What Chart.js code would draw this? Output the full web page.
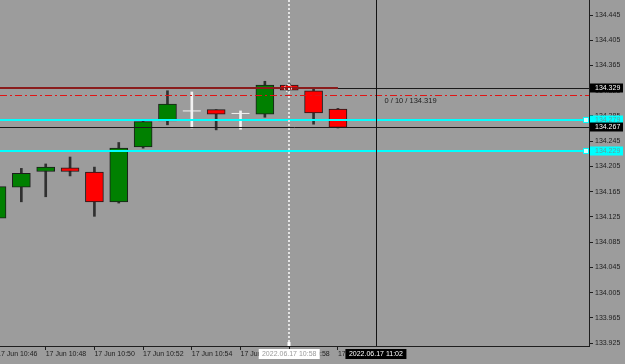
<!DOCTYPE html>
<html>
<head>
<meta charset="utf-8">
<script src="https://cdn.jsdelivr.net/npm/chart.js@4.4.0/dist/chart.umd.min.js"></script>
<style>
  html, body { margin: 0; padding: 0; background: #9c9c9c; }
  canvas { display: block; }
</style>
</head>
<body>
<canvas id="candleChart" width="625" height="364"></canvas>
<script>
// M1 candles, 17 Jun 2022
const times  = ['10:46','10:47','10:48','10:49','10:50','10:51','10:52','10:53','10:54','10:55','10:56','10:57','10:58','10:59','11:00'];
const opens  = [134.123, 134.172, 134.197, 134.203, 134.196, 134.149, 134.236, 134.277, 134.293, 134.295, 134.289, 134.288, 134.334, 134.325, 134.296];
const highs  = [134.174, 134.202, 134.209, 134.220, 134.204, 134.243, 134.278, 134.325, 134.323, 134.295, 134.293, 134.340, 134.336, 134.329, 134.297];
const lows   = [134.121, 134.149, 134.157, 134.190, 134.126, 134.147, 134.234, 134.271, 134.266, 134.263, 134.264, 134.283, 134.326, 134.272, 134.266];
const closes = [134.173, 134.194, 134.204, 134.197, 134.149, 134.234, 134.276, 134.304, 134.293, 134.288, 134.289, 134.334, 134.326, 134.290, 134.267];

const xTickValues = [0, 2, 4, 6, 8, 10, 12, 14];
const xTickLabels = ['17 Jun 10:46', '17 Jun 10:48', '17 Jun 10:50', '17 Jun 10:52', '17 Jun 10:54', '17 Jun 10:56', '17 Jun 10:58', '17 Jun 11:00'];
const yTickValues = [133.925, 133.965, 134.005, 134.045, 134.085, 134.125, 134.165, 134.205, 134.245, 134.285, 134.325, 134.365, 134.405, 134.445];
const yTickLabels = ['133.925', '133.965', '134.005', '134.045', '134.085', '134.125', '134.165', '134.205', '134.245', '134.285', '134.325', '134.365', '134.405', '134.445'];

// horizontal levels and crosshair
const bidPrice = 134.329;
const dashPrice = 134.318;
const cyanLevels = [134.279, 134.229];
const blackLevel = 134.267;
const startTime = 12;
const startLabel = '2022.06.17 10:58';
const cursorTime = 15.56;
const cursorLabel = '2022.06.17 11:02';
const cursorInfo = '0 / 10 / 134.319';

const FONT = "'Liberation Sans', Arial, sans-serif";
const BG = '#9c9c9c';
const INK = '#1e1e1e';

const idx = times.map((t, i) => i);
const isDoji = i => opens[i] === closes[i];
const solid = idx.filter(i => !isDoji(i));
const dojis = idx.filter(i => isDoji(i));
const bodies = solid.map(i => ({ x: i, y: [opens[i], closes[i]] }));
const bodyColors = solid.map(i => closes[i] > opens[i] ? '#008000' : '#ff0000');
const wicks = idx.map(i => ({ x: i, y: [lows[i], highs[i]] }));
const wickColors = idx.map(i => isDoji(i) ? '#f2f2f2' : '#303030');
const dojiPts = dojis.map(i => ({ x: i, y: opens[i] }));

const overlay = {
    id: 'overlay',
    beforeDraw(chart) {
        const ctx = chart.ctx;
        ctx.save();
        ctx.fillStyle = BG;
        ctx.fillRect(0, 0, chart.width, chart.height);
        ctx.restore();
    },
    afterDatasetsDraw(chart) {
        const { ctx, chartArea: a, scales: { x, y } } = chart;
        ctx.save();
        ctx.beginPath();
        ctx.rect(a.left, a.top, a.right - a.left, a.bottom - a.top);
        ctx.clip();

        const hline = (p, color, w, dash, x0, x1) => {
            const py = Math.round(y.getPixelForValue(p)) + (w % 2 ? 0.5 : 0);
            ctx.beginPath();
            ctx.setLineDash(dash || []);
            ctx.strokeStyle = color;
            ctx.lineWidth = w;
            ctx.moveTo(x0 === undefined ? a.left : x0, py);
            ctx.lineTo(x1 === undefined ? a.right : x1, py);
            ctx.stroke();
        };
        hline(bidPrice, '#1a1a1a', 1);
        hline(bidPrice, '#8a1c1c', 2, [], a.left, x.getPixelForValue(times.length - 1));
        hline(dashPrice, '#e01414', 1, [7, 3, 2, 3]);
        hline(blackLevel, '#1a1a1a', 1);
        cyanLevels.forEach(p => hline(p, '#00ffff', 2));

        // start point of the measurement (dotted)
        const sx = Math.round(x.getPixelForValue(startTime));
        ctx.beginPath();
        ctx.setLineDash([2, 2]);
        ctx.strokeStyle = '#e4e4e4';
        ctx.lineWidth = 2;
        ctx.moveTo(sx, a.top);
        ctx.lineTo(sx, a.bottom);
        ctx.stroke();
        ctx.setLineDash([1.5, 1.5]);
        ctx.lineWidth = 1;
        ctx.strokeStyle = '#ffffff';
        ctx.beginPath();
        ctx.arc(sx - 1, y.getPixelForValue(bidPrice), 3.5, 0, Math.PI * 2);
        ctx.stroke();
        ctx.setLineDash([]);
        ctx.fillStyle = '#ffffff';
        ctx.fillRect(sx - 1.5, a.bottom - 4, 3, 4);

        // cursor
        const cx = Math.round(x.getPixelForValue(cursorTime)) + 0.5;
        ctx.beginPath();
        ctx.strokeStyle = '#141414';
        ctx.lineWidth = 1;
        ctx.moveTo(cx, a.top);
        ctx.lineTo(cx, a.bottom);
        ctx.stroke();

        // cyan end markers
        cyanLevels.forEach(p => {
            const py = Math.round(y.getPixelForValue(p));
            ctx.fillStyle = '#d8ffff';
            ctx.fillRect(a.right - 5, py - 2, 4, 4);
            ctx.strokeStyle = '#00ffff';
            ctx.strokeRect(a.right - 5.5, py - 2.5, 5, 5);
        });

        ctx.fillStyle = '#222';
        ctx.font = '7.5px ' + FONT;
        ctx.textBaseline = 'middle';
        ctx.textAlign = 'left';
        ctx.fillText(cursorInfo, cx + 8, y.getPixelForValue(bidPrice) + 13);
        ctx.restore();
    },
    afterDraw(chart) {
        const { ctx, chartArea: a, scales: { x, y } } = chart;
        ctx.save();
        ctx.font = '7px ' + FONT;
        ctx.textBaseline = 'middle';

        const priceBox = (p, bg, fg) => {
            const py = Math.round(y.getPixelForValue(p));
            ctx.fillStyle = bg;
            ctx.fillRect(a.right + 1, py - 4.5, 33, 9);
            ctx.fillStyle = fg;
            ctx.textAlign = 'left';
            ctx.fillText(p.toFixed(3), a.right + 6, py + 0.5);
        };
        priceBox(bidPrice, '#000000', '#ffffff');
        cyanLevels.forEach(p => priceBox(p, '#00ffff', '#5e9e9e'));
        priceBox(blackLevel, '#000000', '#ffffff');

        const timeBox = (t, label, bg, fg) => {
            const px = x.getPixelForValue(t);
            ctx.fillStyle = bg;
            ctx.fillRect(px - 30.5, a.bottom + 3, 61, 10);
            ctx.fillStyle = fg;
            ctx.textAlign = 'center';
            ctx.fillText(label, px, a.bottom + 8.5);
        };
        timeBox(startTime, startLabel, '#ffffff', '#9a9a9a');
        timeBox(cursorTime, cursorLabel, '#000000', '#ffffff');
        ctx.restore();
    }
};

const ctx = document.getElementById('candleChart').getContext('2d');
new Chart(ctx, {
    type: 'bar',
    data: {
        datasets: [
            {
                label: 'doji',
                type: 'line',
                data: dojiPts,
                showLine: false,
                pointStyle: 'line',
                pointRadius: 9,
                pointBorderColor: '#f2f2f2',
                pointBorderWidth: 1,
                order: 0
            },
            {
                label: 'body',
                data: bodies,
                backgroundColor: bodyColors,
                borderColor: '#1c1c1c',
                borderWidth: 1,
                borderSkipped: false,
                barThickness: 18,
                grouped: false,
                order: 1
            },
            {
                label: 'wick',
                data: wicks,
                backgroundColor: wickColors,
                barThickness: 2,
                grouped: false,
                order: 2
            }
        ]
    },
    options: {
        responsive: false,
        animation: false,
        events: [],
        layout: { padding: 0, autoPadding: false },
        plugins: { legend: { display: false }, tooltip: { enabled: false } },
        scales: {
            x: {
                type: 'linear',
                min: 0.123,
                max: 24.31,
                offset: false,
                bounds: 'data',
                grid: { drawOnChartArea: false, tickLength: 4, color: INK, offset: false },
                border: { display: true, color: INK, width: 1 },
                ticks: {
                    align: 'start',
                    autoSkip: false,
                    maxRotation: 0,
                    padding: 0,
                    color: INK,
                    font: { family: FONT, size: 7 },
                    callback: (v, i) => xTickLabels[i]
                },
                afterBuildTicks: s => { s.ticks = xTickValues.map(v => ({ value: v })); },
                afterFit: s => { s.height = 18; s.paddingLeft = 0; s.paddingRight = 0; }
            },
            y: {
                type: 'linear',
                position: 'right',
                min: 133.9205,
                max: 134.4688,
                bounds: 'data',
                grid: { drawOnChartArea: false, tickLength: 4, color: INK },
                border: { display: true, color: INK, width: 1 },
                ticks: {
                    padding: 2,
                    autoSkip: false,
                    color: INK,
                    font: { family: FONT, size: 7 },
                    callback: (v, i) => yTickLabels[i]
                },
                afterBuildTicks: s => { s.ticks = yTickValues.map(v => ({ value: v })); },
                afterFit: s => { s.width = 36; s.paddingTop = 0; s.paddingBottom = 0; }
            }
        }
    },
    plugins: [overlay]
});
</script>
</body>
</html>
